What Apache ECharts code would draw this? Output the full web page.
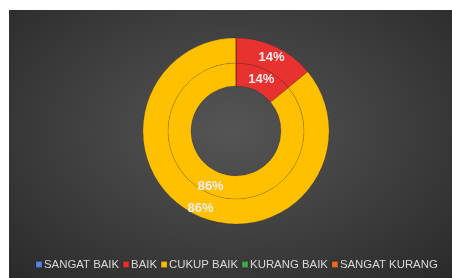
<!DOCTYPE html>
<html>
<head>
<meta charset="utf-8">
<script src="https://cdn.jsdelivr.net/npm/echarts@6/dist/echarts.min.js"></script>
<style>
  html, body { margin: 0; padding: 0; background: #fff; }
  #chart {
    position: absolute; left: 9px; top: 10px; width: 443px; height: 268px;
    background: radial-gradient(ellipse at 50% 45%, #555555 0%, #444444 40%, #2a2a2a 100%);
  }
</style>
</head>
<body>
<div id="chart"></div>
<script>
// kategori penilaian
var categories = ['SANGAT BAIK', 'BAIK', 'CUKUP BAIK', 'KURANG BAIK', 'SANGAT KURANG'];
var colors = ['#4f86e8', '#e8322f', '#ffc000', '#3fae49', '#f26b1d'];
// persentase tiap lingkaran (dalam, luar)
var innerValues = [0, 14, 86, 0, 0];
var outerValues = [0, 14, 86, 0, 0];

function makeData(values) {
    var out = [];
    for (var i = 0; i < categories.length; i++) {
        out.push({ name: categories[i], value: values[i] });
    }
    return out;
}

var labelStyle = {
    show: true,
    position: 'inside',
    offset: [0, 2],
    color: '#ececec',
    fontSize: 13,
    fontWeight: 'bold',
    fontFamily: 'Liberation Sans, Arial, sans-serif',
    formatter: function (p) {
        return p.value > 0 ? p.value + '%' : '';
    }
};

var myChart = echarts.init(document.getElementById('chart'));
var option = {
    backgroundColor: 'transparent',
    color: colors,
    legend: {
        data: categories,
        bottom: 3,
        left: 21,
        icon: 'rect',
        itemWidth: 6,
        itemHeight: 6,
        itemGap: 3,
        textStyle: {
            color: '#d9d9d9',
            fontSize: 11.4,
            fontFamily: 'Liberation Sans, Arial, sans-serif',
            padding: [0, 0, 0, -3]
        },
        selectedMode: false
    },
    series: [{
        name: 'dalam',
        type: 'pie',
        center: [227, 121],
        radius: [45, 68],
        startAngle: 90,
        silent: true,
        label: labelStyle,
        labelLine: { show: false },
        itemStyle: { borderColor: 'rgba(0,0,0,0.12)', borderWidth: 1 },
        data: makeData(innerValues)
    }, {
        name: 'luar',
        type: 'pie',
        center: [227, 121],
        radius: [68, 93],
        startAngle: 90,
        silent: true,
        label: labelStyle,
        labelLine: { show: false },
        itemStyle: { borderColor: 'rgba(0,0,0,0.12)', borderWidth: 1 },
        data: makeData(outerValues)
    }]
};
myChart.setOption(option);
</script>
</body>
</html>
